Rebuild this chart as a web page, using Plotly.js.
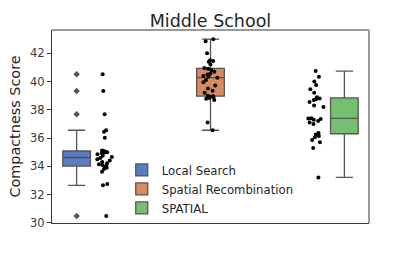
<!DOCTYPE html>
<html>
<head>
<meta charset="utf-8">
<script src="https://cdn.plot.ly/plotly-3.0.1.min.js"></script>
<style>html,body{margin:0;padding:0;background:#fff;}#chart{width:411px;height:257px;}</style>
</head>
<body>
<div id="chart"></div>
<script>
// Data
var seriesNames = ["Local Search", "Spatial Recombination", "SPATIAL"];
var categoryPos = [0, 1, 2];
var localSearch = [30.47, 32.65, 32.74, 33.61, 33.8, 33.9, 33.96, 34.01, 34.08, 34.15, 34.22, 34.3, 34.4, 34.5, 34.58,
  34.66, 34.75, 34.85, 34.92, 34.98, 35.0, 35.03, 35.08, 35.12, 36.02, 36.45, 36.55, 37.68, 39.33, 40.51];
var spatialRecombination = [36.55, 37.1, 38.7, 38.78, 38.83, 38.88, 38.92, 38.95, 39.0, 39.2, 39.35, 39.5, 39.72, 39.95, 40.1,
  40.27, 40.33, 40.4, 40.5, 40.55, 40.7, 40.8, 40.9, 40.95, 41.2, 41.4, 41.45, 41.5, 42.0, 42.85, 43.0];
var spatial = [33.21, 35.3, 35.7, 35.85, 36.05, 36.15, 36.25, 36.35, 37.0, 37.1, 37.2, 37.3, 37.35, 37.38, 37.4,
  38.2, 38.3, 38.55, 38.7, 38.75, 38.8, 38.88, 39.2, 39.45, 39.75, 40.0, 40.34, 40.74];
var yTicks = [30, 32, 34, 36, 38, 40, 42];

var allData = [localSearch, spatialRecombination, spatial];
var colors = ["#597dbf", "#d98b5f", "#76bf70"];
var boxOffsets = [-0.267, 0, 0.267];
var lineGray = "#555555";

var traces = [];
for (var i = 0; i < 3; i++) {
  traces.push({
    type: "box",
    name: seriesNames[i],
    y: allData[i],
    x0: categoryPos[i] + boxOffsets[i],
    width: 0.262,
    fillcolor: colors[i],
    line: {color: lineGray, width: 1.3},
    whiskerwidth: 0.62,
    boxpoints: "outliers",
    marker: {symbol: "diamond", size: 5, color: lineGray, line: {width: 0}},
    hoverinfo: "skip",
    showlegend: true
  });
}
for (var j = 0; j < 3; j++) {
  traces.push({
    type: "box",
    name: seriesNames[j] + " points",
    y: allData[j],
    x0: categoryPos[j],
    width: 0.17,
    fillcolor: "rgba(0,0,0,0)",
    line: {color: "rgba(0,0,0,0)", width: 0},
    boxpoints: "all",
    pointpos: 0,
    jitter: 1,
    marker: {size: 4, color: "#000000", line: {width: 0}},
    hoverinfo: "skip",
    showlegend: false
  });
}

var layout = {
  width: 411, height: 257,
  margin: {l: 52, r: 42, t: 30, b: 34, pad: 0},
  paper_bgcolor: "#ffffff",
  plot_bgcolor: "#ffffff",
  font: {family: "DejaVu Sans", color: "#262626"},
  title: {text: "Middle School", font: {size: 17.5, family: "DejaVu Sans", color: "#262626"}, x: 0.5, xref: "paper", xanchor: "center", y: 0.92, yanchor: "middle"},
  boxmode: "overlay",
  showlegend: true,
  legend: {x: 0.22, y: 0.35, xanchor: "left", yanchor: "top", font: {size: 11.7, family: "DejaVu Sans", color: "#262626"},
    bgcolor: "rgba(255,255,255,0)", borderwidth: 0, tracegroupgap: 0, itemwidth: 30},
  xaxis: {range: [-0.5, 2.5], showticklabels: false, ticks: "", showgrid: false, zeroline: false,
    showline: true, linecolor: "#3a3a3a", linewidth: 1},
  yaxis: {range: [29.98, 43.65], tickvals: yTicks, ticktext: yTicks.map(String), ticks: "outside", ticklen: 4, tickcolor: "#3a3a3a",
    tickfont: {size: 11.5, family: "DejaVu Sans", color: "#3a3a3a"}, showgrid: false, zeroline: false,
    showline: true, linecolor: "#3a3a3a", linewidth: 1,
    title: {text: "Compactness Score", font: {size: 14.4, family: "DejaVu Sans", color: "#262626"}, standoff: 6}},
  shapes: [
    {type: "line", xref: "paper", yref: "paper", x0: 0, x1: 1, y0: 1, y1: 1, line: {color: "#999999", width: 2}},
    {type: "line", xref: "paper", yref: "paper", x0: 1, x1: 1, y0: 0, y1: 1, line: {color: "#999999", width: 2}}
  ]
};

Plotly.newPlot("chart", traces, layout, {staticPlot: true, displayModeBar: false});
</script>
</body>
</html>
